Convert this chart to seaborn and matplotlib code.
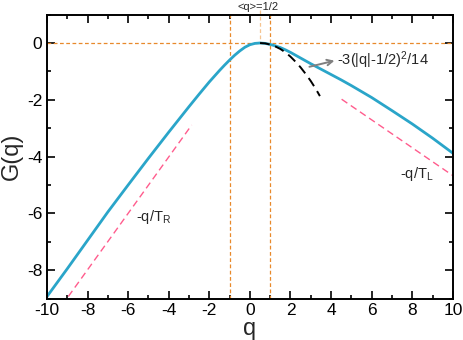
import numpy as np
import pandas as pd
import seaborn as sns
import matplotlib.pyplot as plt

# G(q)
q_vals = [-10, -9, -8, -7, -6, -5, -4, -3.5, -3, -2.5, -2, -1.75, -1.5, -1.25, -1, -0.75,
          -0.5, -0.25, 0, 0.25, 0.5, 0.75, 1, 1.25, 1.5, 1.75, 2, 2.5, 3, 3.5, 4, 4.5,
          5, 5.5, 6, 7, 8, 9, 10]
g_vals = [-8.93, -7.95, -6.95, -5.95, -5.0, -4.06, -3.14, -2.69, -2.24, -1.8, -1.37,
          -1.17, -0.97, -0.78, -0.6, -0.43, -0.28, -0.15, -0.06, -0.013, 0.0, -0.013,
          -0.05, -0.1, -0.16, -0.24, -0.33, -0.53, -0.73, -0.92, -1.11, -1.3, -1.5,
          -1.71, -1.92, -2.38, -2.85, -3.35, -3.88]

# small-q parabola -3(|q|-1/2)^2/14
par_q = [0.5, 0.75, 1.0, 1.25, 1.5, 1.75, 2.0, 2.25, 2.5, 2.75, 3.0, 3.25, 3.45]
par_g = [0.0, -0.013, -0.054, -0.12, -0.21, -0.33, -0.48, -0.66, -0.86, -1.09, -1.34, -1.62, -1.87]

# asymptotes
tr_q = [-8.95, -2.87]
tr_g = [-8.93, -2.89]
tl_q = [4.52, 10.0]
tl_g = [-1.98, -4.67]

v_lines = [-1, 1]

sns.set_style("ticks")
plt.rcParams['font.family'] = ['Liberation Sans', 'DejaVu Sans']
plt.rcParams['mathtext.default'] = 'regular'
plt.rcParams['axes.unicode_minus'] = False

fig = plt.figure(figsize=(4.63, 3.40), dpi=100)
ax = fig.add_axes([0.1015, 0.122, 0.8765, 0.835])

orange = '#e8892b'
ax.axhline(0, color=orange, lw=0.9, ls=(0, (3, 2)), zorder=1)
for v in v_lines:
    ax.axvline(v, color=orange, lw=0.9, ls=(0, (3, 2)), zorder=1)
ax.plot([0.5, 0.5], [1.16, 0.0], color='#f5c490', lw=0.9, ls=(0, (3, 2)),
        clip_on=False, zorder=1)

sns.lineplot(x=tr_q, y=tr_g, ax=ax, color='#ff5c8d', lw=1.0, linestyle=(0, (5, 3)))
sns.lineplot(x=tl_q, y=tl_g, ax=ax, color='#ff5c8d', lw=1.0, linestyle=(0, (5, 3)))
sns.lineplot(x=q_vals, y=g_vals, ax=ax, color='#2aa5c9', lw=2.0, sort=False)
sns.lineplot(x=par_q, y=par_g, ax=ax, color='black', lw=1.4, linestyle=(0, (5, 3)),
             sort=False)

ax.annotate('', xy=(4.3, -0.6), xytext=(2.8, -0.86),
            arrowprops=dict(arrowstyle='->', color='#808080', lw=1.4))
ax.text(4.3, -0.6, '-3(|q|-1/2)$^2$/14', fontsize=10.5, va='center', ha='left')
ax.text(-4.75, -6.12, '-q/T$_R$', fontsize=10.5, va='center', ha='center')
ax.text(8.2, -4.62, '-q/T$_L$', fontsize=10.5, va='center', ha='center')
ax.text(0.4, 1.27, '<q>=1/2', fontsize=8, va='center', ha='center', clip_on=False)

ax.set_xlim(-10, 10)
ax.set_ylim(-9, 1)
ax.set_xticks(np.arange(-10, 11, 2))
ax.set_xticks(np.arange(-10, 11, 1), minor=True)
ax.set_yticks(np.arange(-8, 1, 2))
ax.set_yticks(np.arange(-9, 2, 1), minor=True)
ax.tick_params(which='both', direction='in', top=True, right=True, width=1.2,
               labelsize=12.5, colors='black')
ax.tick_params(which='major', length=6)
ax.tick_params(which='minor', length=3)
for s in ax.spines.values():
    s.set_linewidth(1.4)
    s.set_color('black')

ax.set_xlabel('q', fontsize=17, labelpad=0)
ax.set_ylabel('G(q)', fontsize=17, labelpad=3)

fig.savefig('out.png', dpi=100)
